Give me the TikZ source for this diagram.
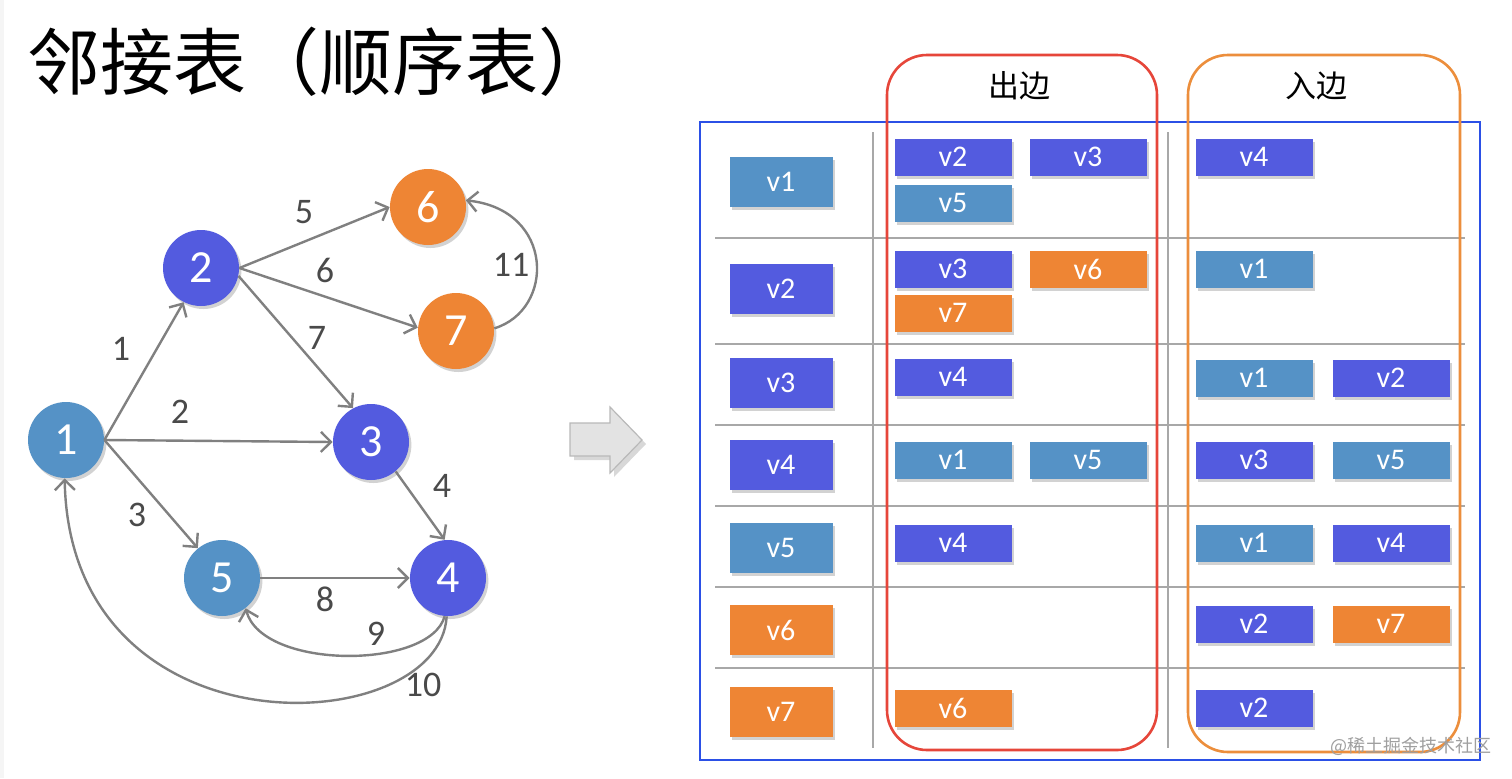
\documentclass[tikz,border=0pt]{standalone}
\usepackage{fontspec}
\setmainfont{Carlito}
\newfontfamily\cjk{Noto Sans CJK SC}
\usetikzlibrary{arrows.meta,shadows}
\definecolor{cblue}{HTML}{535BDF}
\definecolor{clight}{HTML}{5592C6}
\definecolor{corange}{HTML}{EE8534}
\definecolor{edgegray}{HTML}{808080}
\definecolor{labgray}{HTML}{4A4A4A}
\definecolor{tblue}{HTML}{2B50E6}
\definecolor{tred}{HTML}{E6463A}
\definecolor{torange}{HTML}{EC8E3C}
\definecolor{gridgray}{HTML}{A8A8A8}
\tikzset{
  boxshade/.style={drop shadow={shadow xshift=1.2pt, shadow yshift=-1.5pt, opacity=0.35}},
  vert/.style={circle, minimum size=38pt, inner sep=0pt, text=white, font=\fontsize{23}{23}\selectfont, boxshade},
  vb/.style={vert, fill=cblue},
  vl/.style={vert, fill=clight},
  vo/.style={vert, fill=corange},
  ed/.style={draw=edgegray, line width=1.2pt, -{Straight Barb[length=5pt,width=10pt,line width=1.2pt]}},
  elab/.style={text=labgray, font=\fontsize{18}{18}\selectfont, inner sep=0pt},
  cell/.style={rectangle, minimum width=58.5pt, minimum height=18.5pt, inner sep=0pt, text=white, font=\fontsize{15}{15}\selectfont, boxshade},
  cb/.style={cell, fill=cblue},
  cl/.style={cell, fill=clight},
  co/.style={cell, fill=corange},
  rowbox/.style={rectangle, minimum width=51.5pt, minimum height=25pt, inner sep=0pt, text=white, font=\fontsize{15}{15}\selectfont, boxshade},
  rb/.style={rowbox, fill=cblue},
  rl/.style={rowbox, fill=clight},
  ro/.style={rowbox, fill=corange},
  grid/.style={draw=gridgray, line width=1pt},
}
\begin{document}
\begin{tikzpicture}[x=0.5pt,y=-0.5pt]
\useasboundingbox (0,0) rectangle (1512,778);
\fill[white] (0,0) rectangle (1512,778);
\fill[gray!8] (0,0) rectangle (4,778);

% title
\node[anchor=west, inner sep=0pt, font=\cjk\fontsize{36.5}{37}\selectfont] (title) at (27,62) {邻接表（顺序表）};

% graph vertices
\node[vl] (n1) at (66,440) {1};
\node[vb] (n2) at (201,268) {2};
\node[vb] (n3) at (371,442) {3};
\node[vb] (n4) at (448,578) {4};
\node[vl] (n5) at (222,578) {5};
\node[vo] (n6) at (428,207) {6};
\node[vo] (n7) at (456,331) {7};

% edges
\draw[ed] (n1.east) -- (n2.-117);
\draw[ed] (n1.east) -- (n3.west);
\draw[ed] (n1.east) -- (n5.129);
\draw[ed] (n3.-50) -- (n4.95);
\draw[ed] (n2.east) -- (n6.west);
\draw[ed] (n2.east) -- (n7.175);
\draw[ed] (n2.-12) -- (n3.118);
\draw[ed] (n5.east) -- (n4.west);
\draw[ed] (n4.-95) .. controls (430,670) and (262,670) .. (n5.-52);
\draw[ed] (n4.-92) .. controls (440,740) and (70,760) .. (n1.-92);
\draw[ed] (n7.4) .. controls (555,310) and (555,210) .. (n6.10);

% edge labels
\node[elab] (l1) at (121,349) {1};
\node[elab] (l2) at (180,412) {2};
\node[elab] (l3) at (137,515) {3};
\node[elab] (l4) at (442,486) {4};
\node[elab] (l5) at (304,212) {5};
\node[elab] (l6) at (325,270) {6};
\node[elab] (l7) at (317,338) {7};
\node[elab] (l8) at (325,599) {8};
\node[elab] (l9) at (376,634) {9};
\node[elab] (l10) at (423,685) {10};
\node[elab] (l11) at (511,265) {11};

% block arrow
\path[fill=gray!22, draw=gray!55, line width=0.6pt, drop shadow={shadow xshift=2pt, shadow yshift=-2pt, opacity=0.3}]
  (570,423) -- (610,423) -- (610,407) -- (642,440) -- (610,473) -- (610,456) -- (570,456) -- cycle;

% table frame and grid
\draw[tblue, line width=1.2pt] (700,122) rectangle (1480,760);
\draw[grid] (873,132) -- (873,748);
\draw[grid] (1168,132) -- (1168,748);
\foreach \yy in {238,344,425,506,587,668} {\draw[grid] (715,\yy) -- (1465,\yy);}

% rounded outlines
\draw[tred, line width=1.3pt, rounded corners=20pt] (887,55) rectangle (1157,750);
\draw[torange, line width=1.3pt, rounded corners=20pt] (1188,55) rectangle (1460,752);
\node[font=\cjk\fontsize{15.5}{16}\selectfont] (hout) at (1019,86) {出边};
\node[font=\cjk\fontsize{15.5}{16}\selectfont] (hin) at (1316,86) {入边};

% row labels
\node[rl] (r1) at (781,182) {v1};
\node[rb] (r2) at (781,289) {v2};
\node[rb] (r3) at (781,383) {v3};
\node[rb] (r4) at (781,465) {v4};
\node[rl] (r5) at (781,548) {v5};
\node[ro] (r6) at (781,630) {v6};
\node[ro] (r7) at (781,712) {v7};

% out edges
\node[cb] (o1a) at (953,157) {v2};
\node[cb] (o1b) at (1088,157) {v3};
\node[cl] (o1c) at (953,203) {v5};
\node[cb] (o2a) at (953,269) {v3};
\node[co] (o2b) at (1088,269) {v6};
\node[co] (o2c) at (953,313) {v7};
\node[cb] (o3a) at (953,377) {v4};
\node[cl] (o4a) at (953,460) {v1};
\node[cl] (o4b) at (1088,460) {v5};
\node[cb] (o5a) at (953,543) {v4};
\node[co] (o7a) at (953,708) {v6};

% in edges
\node[cb] (i1a) at (1254,157) {v4};
\node[cl] (i2a) at (1254,269) {v1};
\node[cl] (i3a) at (1254,378) {v1};
\node[cb] (i3b) at (1391,378) {v2};
\node[cb] (i4a) at (1254,460) {v3};
\node[cl] (i4b) at (1391,460) {v5};
\node[cl] (i5a) at (1254,543) {v1};
\node[cb] (i5b) at (1391,543) {v4};
\node[cb] (i6a) at (1254,624) {v2};
\node[co] (i6b) at (1391,624) {v7};
\node[cb] (i7a) at (1254,708) {v2};

% watermark
\node[anchor=east, inner sep=0pt, text=gray!75, font=\cjk\fontsize{9}{9}\selectfont] (wm) at (1492,746) {@稀土掘金技术社区};
\end{tikzpicture}
\end{document}
